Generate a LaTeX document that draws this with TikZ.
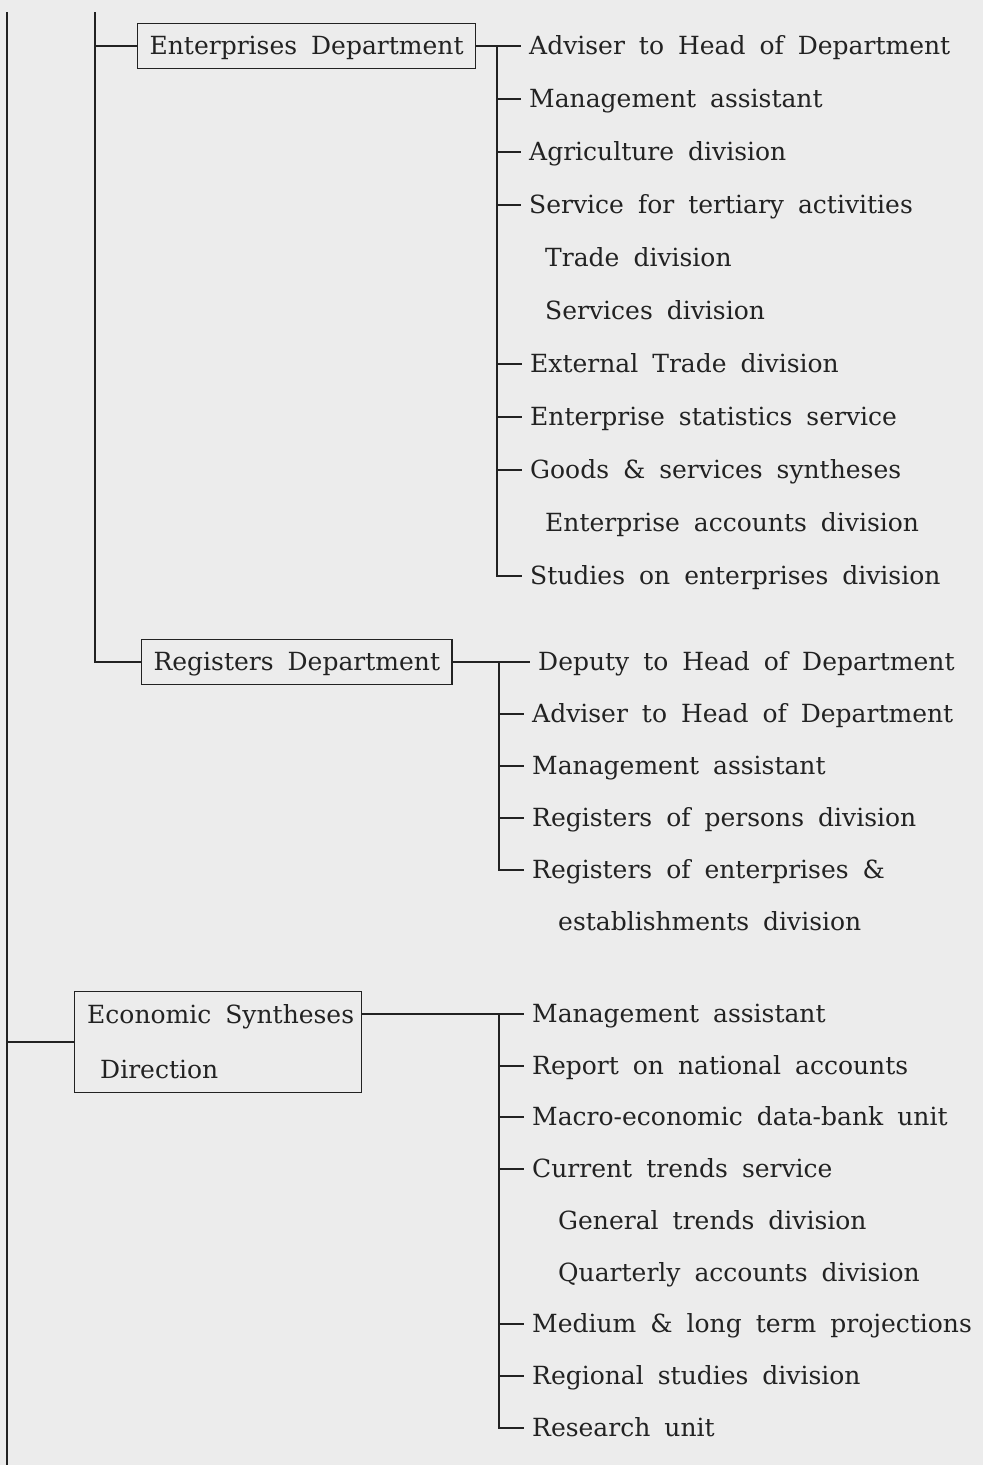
\documentclass[tikz,border=0pt]{standalone}
\usepackage{fontspec}
\setmainfont{DejaVu Serif}
\definecolor{ink}{HTML}{222222}
\definecolor{paper}{HTML}{ECECEC}
\newcommand\txtfont{\fontsize{25}{30}\selectfont\spaceskip=14pt\relax}
\tikzset{
  item/.style={anchor=west, font=\txtfont, text=ink, inner xsep=8pt, inner ysep=0pt, text height=18pt, text depth=2pt},
  dept/.style={draw=ink, line width=1.2pt, font=\txtfont, text=ink, inner xsep=12pt, inner ysep=12.5pt, text height=18pt, text depth=2pt},
  boxtext/.style={anchor=base west, font=\txtfont, text=ink, inner sep=0pt},
  wire/.style={draw=ink, line width=1.3pt}
}
\begin{document}
\begin{tikzpicture}[x=1pt,y=-1pt]
\fill[paper] (0,0) rectangle (983,1465);
\useasboundingbox (0,0) rectangle (983,1465);

% trunks
\coordinate (t0) at (7,12);
\coordinate (b0) at (7,1465);
\coordinate (t1) at (95,12);

% department boxes
\node[dept, anchor=west] (E) at (137,46) {Enterprises Department};
\node[dept, anchor=west] (R) at (141,662) {Registers Department};
\node[dept, minimum width=287pt, minimum height=101pt, anchor=north west] (C) at (74,991) {};
\node[boxtext] (C1) at (87,1023) {Economic Syntheses};
\node[boxtext] (C2) at (100,1078) {Direction};

% Enterprises children
\coordinate (vE) at (497,46);
\node[item] (e1) at (521,46) {Adviser to Head of Department};
\node[item] (e2) at (521,99) {Management assistant};
\node[item] (e3) at (521,152) {Agriculture division};
\node[item] (e4) at (521,205) {Service for tertiary activities};
\node[item] (e5) at (537,258) {Trade division};
\node[item] (e6) at (537,311) {Services division};
\node[item] (e7) at (522,364) {External Trade division};
\node[item] (e8) at (522,417) {Enterprise statistics service};
\node[item] (e9) at (522,470) {Goods \& services syntheses};
\node[item] (e10) at (537,523) {Enterprise accounts division};
\node[item] (e11) at (522,576) {Studies on enterprises division};

% Registers children
\coordinate (vR) at (499,662);
\node[item] (r1) at (530,662) {Deputy to Head of Department};
\node[item] (r2) at (524,714) {Adviser to Head of Department};
\node[item] (r3) at (524,766) {Management assistant};
\node[item] (r4) at (524,818) {Registers of persons division};
\node[item] (r5) at (524,870) {Registers of enterprises \&};
\node[item] (r6) at (550,922) {establishments division};

% Economic children
\coordinate (vC) at (499,1014);
\node[item] (c1) at (524,1014) {Management assistant};
\node[item] (c2) at (524,1066) {Report on national accounts};
\node[item] (c3) at (524,1117) {Macro-economic data-bank unit};
\node[item] (c4) at (524,1169) {Current trends service};
\node[item] (c5) at (550,1221) {General trends division};
\node[item] (c6) at (550,1273) {Quarterly accounts division};
\node[item] (c7) at (524,1324) {Medium \& long term projections};
\node[item] (c8) at (524,1376) {Regional studies division};
\node[item] (c9) at (524,1428) {Research unit};

% trunk connectors
\draw[wire] (t0) -- (b0);
\draw[wire] (t0 |- C.west) -- (C.west);
\draw[wire] (t1) |- (R.west);
\draw[wire] (t1 |- E.west) -- (E.west);

% Enterprises connectors
\draw[wire] (E.east) -- (e1.west);
\draw[wire] (vE) |- (e11.west);
\foreach \n in {e2,e3,e4,e7,e8,e9} \draw[wire] (vE |- \n.west) -- (\n.west);

% Registers connectors
\draw[wire] (R.east) -- (r1.west);
\draw[wire] (vR) |- (r5.west);
\foreach \n in {r2,r3,r4} \draw[wire] (vR |- \n.west) -- (\n.west);

% Economic connectors
\draw[wire] (C.east |- c1.west) -- (c1.west);
\draw[wire] (vC) |- (c9.west);
\foreach \n in {c2,c3,c4,c7,c8} \draw[wire] (vC |- \n.west) -- (\n.west);
\end{tikzpicture}
\end{document}
